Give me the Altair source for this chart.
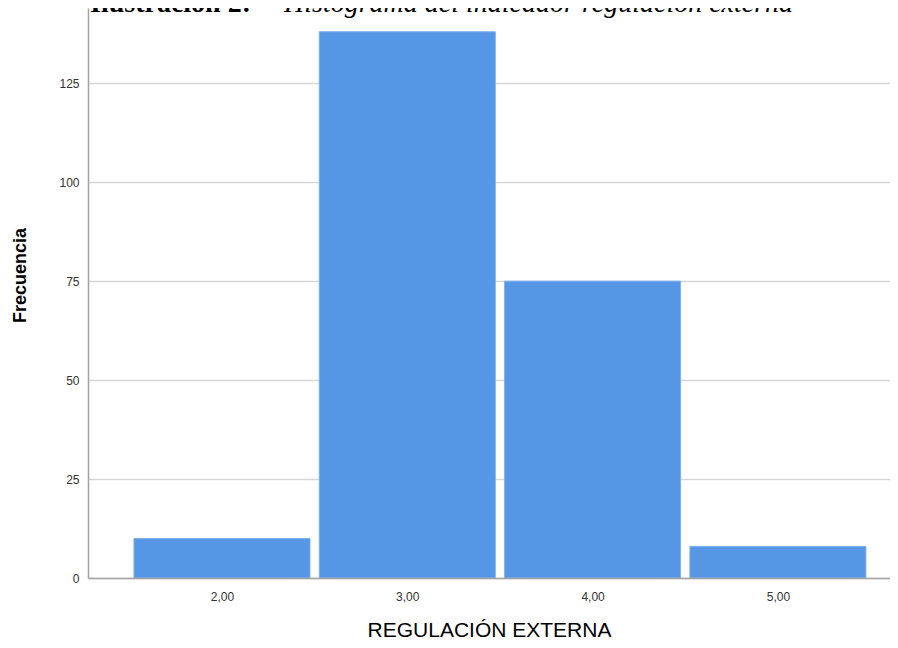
import altair as alt
import pandas as pd

# Data
valores = [2, 3, 4, 5]
frecuencias = [10, 138, 75, 8]
ticks_y = [0, 25, 50, 75, 100, 125]
titulo_eje_x = "REGULACIÓN EXTERNA"
titulo_eje_y = "Frecuencia"
titulo_negrita = ["Ilustración 2:"]
titulo_cursiva = ["Histograma del indicador regulación externa"]

df = pd.DataFrame({"valor": valores, "frecuencia": frecuencias})

FONT = "Liberation Sans"
x_scale = alt.Scale(domain=[1.277, 5.605], nice=False, zero=False)
y_scale = alt.Scale(domain=[0, 144], nice=False)

bars = (
    alt.Chart(df)
    .transform_calculate(x0="datum.valor - 0.475", x1="datum.valor + 0.475")
    .mark_bar(color="#5596e5", stroke="#7fb0ee", strokeWidth=1)
    .encode(
        x=alt.X(
            "x0:Q",
            scale=x_scale,
            axis=alt.Axis(
                values=valores,
                labelExpr="replace(format(datum.value, '.2f'), '.', ',')",
                title=titulo_eje_x,
                grid=False,
                ticks=False,
                domainColor="#a3a3a3",
                domainWidth=1.5,
                labelFont=FONT,
                labelFontSize=12,
                labelPadding=13,
                labelColor="#333333",
                titleFont=FONT,
                titleFontSize=21,
                titleFontWeight="normal",
                titleColor="#000000",
                titleY=58,
                titleBaseline="alphabetic",
                zindex=1,
            ),
        ),
        x2="x1:Q",
        y=alt.Y(
            "frecuencia:Q",
            scale=y_scale,
            axis=alt.Axis(
                values=ticks_y,
                title=titulo_eje_y,
                grid=True,
                gridColor="#d6d6d6",
                gridWidth=1.5,
                ticks=False,
                domainColor="#a3a3a3",
                domainWidth=1.5,
                labelFont=FONT,
                labelFontSize=12,
                labelPadding=9,
                labelColor="#333333",
                titleFont=FONT,
                titleFontSize=18,
                titleFontWeight="bold",
                titleColor="#000000",
                titleAngle=-90,
                titleX=-68,
                titleY=267,
                titleAlign="center",
                titleBaseline="middle",
            ),
        ),
        y2=alt.Y2Datum(0),
    )
)

t1 = (
    alt.Chart(pd.DataFrame({"t": titulo_negrita}))
    .mark_text(font="Liberation Serif", fontSize=28, fontWeight="bold", align="left", baseline="alphabetic", color="#000000")
    .encode(text="t:N", x=alt.value(2), y=alt.value(4))
)
t2 = (
    alt.Chart(pd.DataFrame({"t": titulo_cursiva}))
    .mark_text(font="Liberation Serif", fontSize=28, fontStyle="italic", align="left", baseline="alphabetic", color="#000000")
    .encode(text="t:N", x=alt.value(196), y=alt.value(4))
)

chart = (
    alt.layer(bars, t1, t2)
    .properties(
        width=802,
        height=570,
        padding={"left": 80, "top": 0, "right": 0, "bottom": 62},
        autosize=alt.AutoSizeParams(type="none"),
        background="white",
    )
    .configure_view(stroke=None)
)

chart.save("out.html", embed_options={"renderer": "svg", "actions": False})
